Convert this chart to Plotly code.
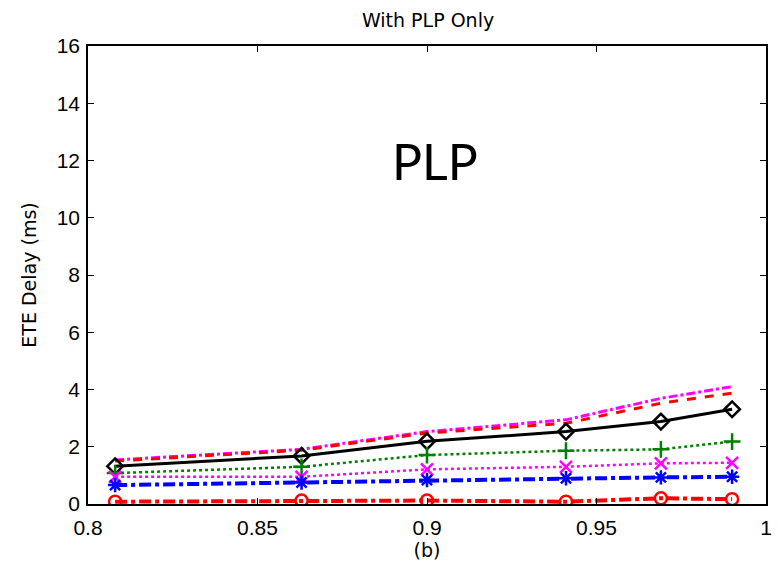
import plotly.graph_objects as go

x_vals = [0.808, 0.863, 0.9, 0.941, 0.969, 0.99]

magenta_top = [1.54, 1.91, 2.53, 2.94, 3.69, 4.10]
red_top = [1.50, 1.88, 2.48, 2.82, 3.52, 3.87]
black_diamond = [1.32, 1.68, 2.19, 2.53, 2.88, 3.31]
green_plus = [1.08, 1.30, 1.71, 1.86, 1.91, 2.18]
magenta_x = [0.95, 0.95, 1.21, 1.30, 1.42, 1.44]
blue_star = [0.66, 0.75, 0.84, 0.90, 0.93, 0.95]
red_circle = [0.08, 0.12, 0.12, 0.08, 0.20, 0.17]

x_ticks = [0.8, 0.85, 0.9, 0.95, 1.0]
x_tick_text = ["0.8", "0.85", "0.9", "0.95", "1"]
y_ticks = [0, 2, 4, 6, 8, 10, 12, 14, 16]

series = [
    dict(y=magenta_top, color="#ff00ff", dash="dashdot", width=3, symbol=None),
    dict(y=red_top, color="#ff0000", dash="dash", width=3, symbol=None),
    dict(y=black_diamond, color="#000000", dash="solid", width=3, symbol="diamond-open"),
    dict(y=green_plus, color="#008000", dash="dot", width=2.5, symbol="cross-thin-open"),
    dict(y=magenta_x, color="#ff00ff", dash="dot", width=2.5, symbol="x-thin-open"),
    dict(y=blue_star, color="#0000ff", dash="dashdot", width=4, symbol="asterisk-open"),
    dict(y=red_circle, color="#ff0000", dash="dashdot", width=4, symbol="circle-open"),
]

fig = go.Figure()
for s in series:
    mode = "lines+markers" if s["symbol"] else "lines"
    marker = dict(symbol=s["symbol"], size=12, color=s["color"],
                  line=dict(color=s["color"], width=2.5)) if s["symbol"] else None
    fig.add_trace(go.Scatter(x=x_vals, y=s["y"], mode=mode,
                             line=dict(color=s["color"], dash=s["dash"], width=s["width"]),
                             marker=marker, showlegend=False))

fig.add_annotation(x=0.9025, y=12.0, text="PLP", showarrow=False,
                   font=dict(family="Lato", size=50, color="#000000"))

axis_common = dict(showgrid=False, zeroline=False, showline=True, linecolor="#000000",
                   linewidth=1.5, mirror="ticks", ticks="inside", ticklen=6,
                   tickcolor="#000000", tickwidth=1,
                   tickfont=dict(family="Liberation Sans", size=21, color="#000000"))

label_font = dict(family="DejaVu Sans", size=19, color="#000000")

fig.update_layout(
    width=784, height=570,
    margin=dict(l=88, r=14, t=46, b=66),
    paper_bgcolor="white", plot_bgcolor="white",
    title=dict(text="With PLP Only", x=0.546, xanchor="center", y=0.965, yanchor="middle",
               font=dict(family="DejaVu Sans", size=19, color="#000000")),
    xaxis=dict(range=[0.8, 1.0], tickvals=x_ticks, ticktext=x_tick_text,
               ticklabelstandoff=4,
               title=dict(text="(b)", font=label_font, standoff=6),
               **axis_common),
    yaxis=dict(range=[0, 16], tickvals=y_ticks,
               ticklabelstandoff=2,
               title=dict(text="ETE Delay (ms)", font=label_font, standoff=15),
               **axis_common),
)

fig.write_html("out.html")
